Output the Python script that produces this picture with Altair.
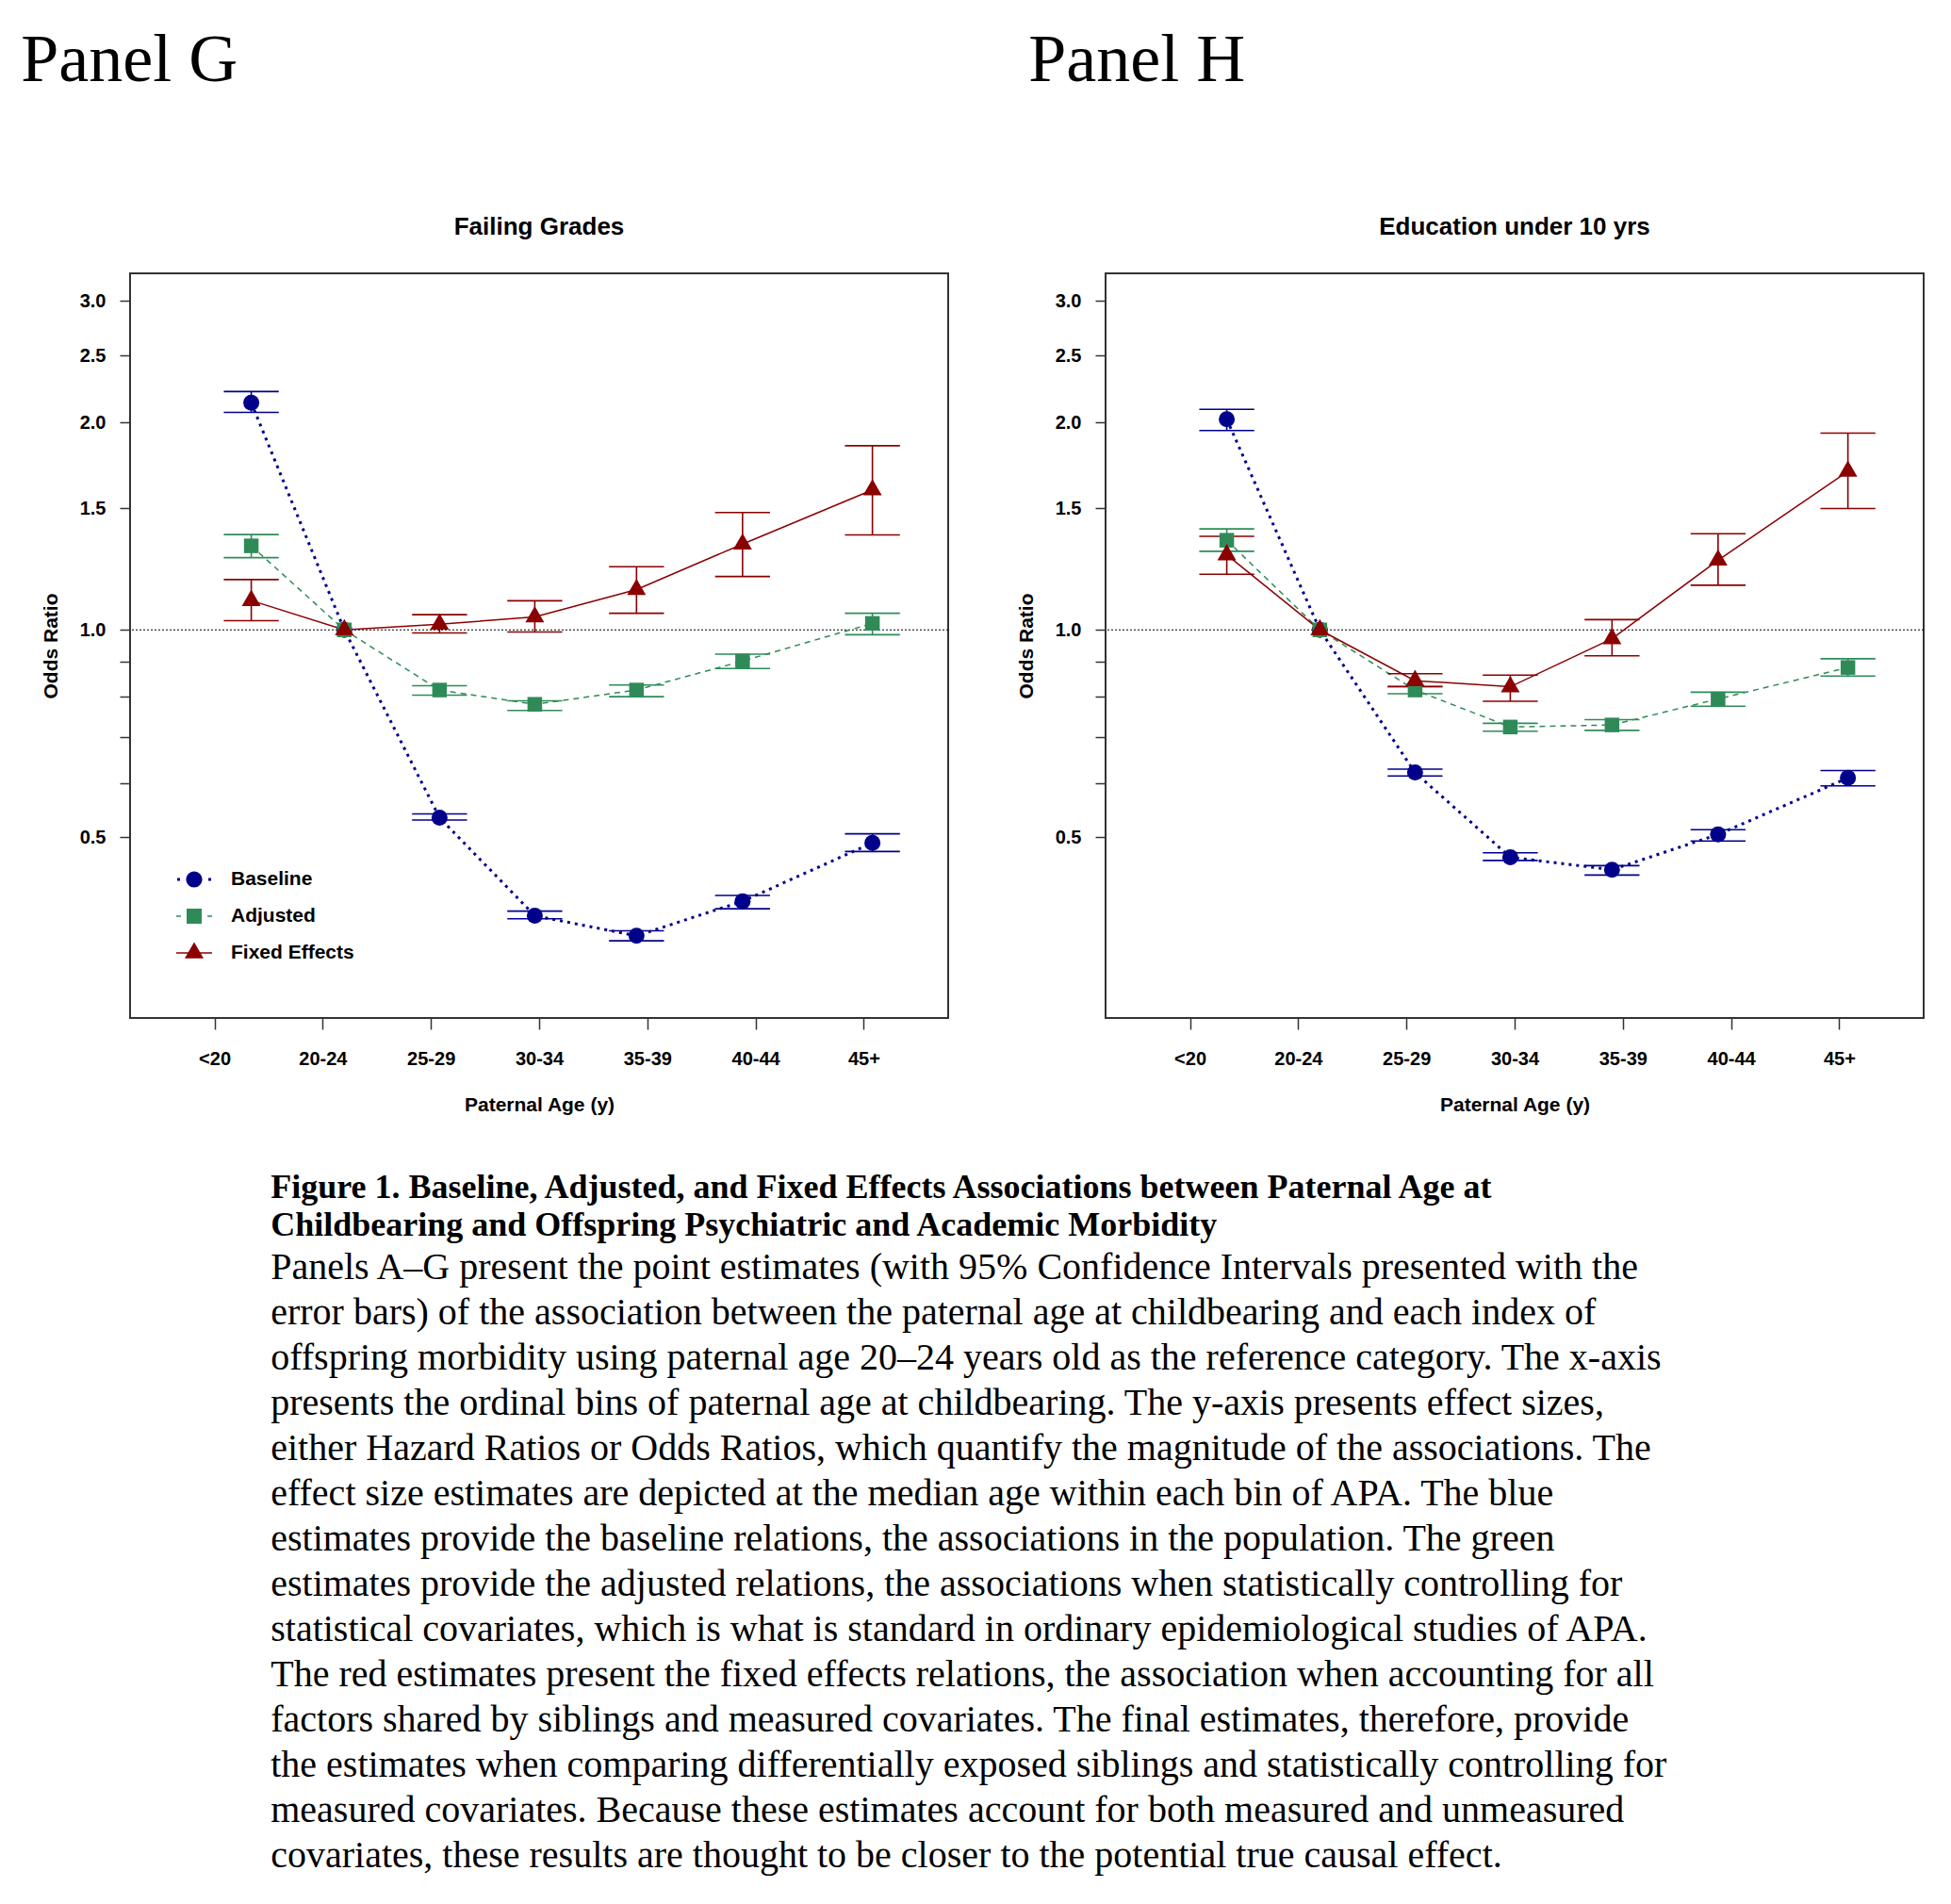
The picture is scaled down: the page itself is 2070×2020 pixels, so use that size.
import math
import altair as alt
import pandas as pd

# ---------------- data ----------------
age_labels = ["<20", "20-24", "25-29", "30-34", "35-39", "40-44", "45+"]
age_ticks = [17.5, 22.5, 27.5, 32.5, 37.5, 42.5, 47.5]
median_age = [19.2, 23.5, 27.9, 32.3, 37.0, 41.9, 47.9]
series_names = ["Baseline", "Adjusted", "Fixed Effects"]

# Panel G - Failing Grades
g_base = [2.135, 1.0, 0.534, 0.385, 0.360, 0.404, 0.491]
g_base_lo = [2.068, None, 0.530, 0.381, 0.354, 0.394, 0.477]
g_base_hi = [2.217, None, 0.541, 0.391, 0.366, 0.412, 0.506]
g_adj = [1.324, 1.0, 0.818, 0.780, 0.818, 0.901, 1.022]
g_adj_lo = [1.273, None, 0.804, 0.764, 0.800, 0.879, 0.984]
g_adj_hi = [1.375, None, 0.830, 0.789, 0.832, 0.922, 1.057]
g_fe = [1.103, 1.0, 1.019, 1.044, 1.144, 1.332, 1.596]
g_fe_lo = [1.031, None, 0.990, 0.993, 1.057, 1.195, 1.373]
g_fe_hi = [1.183, None, 1.052, 1.102, 1.235, 1.480, 1.850]

# Panel H - Education under 10 yrs
h_base = [2.021, 1.0, 0.621, 0.468, 0.449, 0.505, 0.610]
h_base_lo = [1.946, None, 0.614, 0.463, 0.441, 0.494, 0.594]
h_base_hi = [2.089, None, 0.628, 0.475, 0.455, 0.513, 0.625]
h_adj = [1.349, 1.0, 0.818, 0.723, 0.728, 0.794, 0.882]
h_adj_lo = [1.300, None, 0.808, 0.713, 0.715, 0.775, 0.857]
h_adj_hi = [1.401, None, 0.827, 0.732, 0.741, 0.812, 0.908]
h_fe = [1.285, 1.0, 0.844, 0.827, 0.971, 1.262, 1.698]
h_fe_lo = [1.204, None, 0.828, 0.788, 0.917, 1.161, 1.500]
h_fe_hi = [1.367, None, 0.864, 0.860, 1.035, 1.379, 1.929]

y_tick_values = [0.5, 0.6, 0.7, 0.8, 0.9, 1.0, 1.5, 2.0, 2.5, 3.0]
y_label_values = [0.5, 1.0, 1.5, 2.0, 2.5, 3.0]

caption_bold = [
    "Figure 1. Baseline, Adjusted, and Fixed Effects Associations between Paternal Age at",
    "Childbearing and Offspring Psychiatric and Academic Morbidity",
]
caption_lines = [
    "Panels A\u2013G present the point estimates (with 95% Confidence Intervals presented with the",
    "error bars) of the association between the paternal age at childbearing and each index of",
    "offspring morbidity using paternal age 20\u201324 years old as the reference category. The x-axis",
    "presents the ordinal bins of paternal age at childbearing. The y-axis presents effect sizes,",
    "either Hazard Ratios or Odds Ratios, which quantify the magnitude of the associations. The",
    "effect size estimates are depicted at the median age within each bin of APA. The blue",
    "estimates provide the baseline relations, the associations in the population. The green",
    "estimates provide the adjusted relations, the associations when statistically controlling for",
    "statistical covariates, which is what is standard in ordinary epidemiological studies of APA.",
    "The red estimates present the fixed effects relations, the association when accounting for all",
    "factors shared by siblings and measured covariates. The final estimates, therefore, provide",
    "the estimates when comparing differentially exposed siblings and statistically controlling for",
    "measured covariates. Because these estimates account for both measured and unmeasured",
    "covariates, these results are thought to be closer to the potential true causal effect.",
]

# ---------------- styles ----------------
SANS = "Liberation Sans"
SERIF = "Liberation Serif"
colors = {"Baseline": "#00008B", "Adjusted": "#2E8B57", "Fixed Effects": "#8B0000"}
line_style = {
    "Baseline": dict(strokeWidth=3, strokeDash=[3, 5], strokeCap="butt"),
    "Adjusted": dict(strokeWidth=1.5, strokeDash=[6, 5]),
    "Fixed Effects": dict(strokeWidth=1.5),
}
TRI = "M0,-1L0.866,0.5L-0.866,0.5Z"
point_style = {
    "Baseline": dict(shape="circle", size=289),
    "Adjusted": dict(shape="square", size=240),
    "Fixed Effects": dict(shape=TRI, size=533),
}
legend_paths = [
    "M-0.95,-0.08h0.16v0.16h-0.16Z M0.79,-0.08h0.16v0.16h-0.16Z "
    "M-0.45,0A0.45,0.45,0,1,1,0.45,0A0.45,0.45,0,1,1,-0.45,0Z",
    "M-1,-0.04h0.26v0.08h-0.26Z M0.74,-0.04h0.26v0.08h-0.26Z "
    "M-0.42,-0.42h0.84v0.84h-0.84Z",
    "M-1,-0.04H1V0.04H-1Z M0,-0.61L0.527,0.305L-0.527,0.305Z",
]
CAP_HALF = 1.27  # half width of the error-bar caps, in years

# axis ranges (R style 4% extension)
xlim = [15, 50]
ylim = [0.3, 3.0]
xr = xlim[1] - xlim[0]
x_domain = [xlim[0] - 0.04 * xr, xlim[1] + 0.04 * xr]
lr = math.log(ylim[1]) - math.log(ylim[0])
y_domain = [math.exp(math.log(ylim[0]) - 0.04 * lr), math.exp(math.log(ylim[1]) + 0.04 * lr)]

label_js = "[" + ",".join("'%s'" % s for s in age_labels) + "]"
tick_js = "[" + ",".join(str(t) for t in age_ticks) + "]"
ylab_js = "[" + ",".join(str(v) for v in y_label_values) + "]"

X_SCALE = alt.Scale(domain=x_domain, nice=False, zero=False)
Y_SCALE = alt.Scale(type="log", domain=y_domain, nice=False)
X_AXIS = alt.Axis(
    values=age_ticks,
    labelExpr=f"{label_js}[indexof({tick_js}, datum.value)]",
    title="Paternal Age (y)",
)
Y_AXIS = alt.Axis(
    values=y_tick_values,
    labelExpr=f"indexof({ylab_js}, datum.value) >= 0 ? format(datum.value, '.1f') : ''",
    title="Odds Ratio",
)


def xenc(field):
    return alt.X(field, type="quantitative", scale=X_SCALE, axis=X_AXIS)


def yenc(field):
    return alt.Y(field, type="quantitative", scale=Y_SCALE, axis=Y_AXIS)


def build_panel(values, subtitle, panel_label, label_dx, W=868, H=790):
    layers = []
    ref = alt.Chart(pd.DataFrame({"OR": [1.0]})).mark_rule(
        color="black", strokeWidth=1.2, strokeDash=[2, 2]
    ).encode(y=yenc("OR"))
    layers.append(ref)
    line_layers, bar_layers, pt_layers = [], [], []
    for name in series_names:
        est, lo, hi = values[name]
        df = pd.DataFrame({"age": median_age, "bin": age_labels, "OR": est, "lo": lo, "hi": hi})
        base = alt.Chart(df)
        c = colors[name]
        line_layers.append(
            base.mark_line(color=c, **line_style[name]).encode(x=xenc("age"), y=yenc("OR"))
        )
        bars = base.transform_filter("isValid(datum.lo)").transform_calculate(
            xl=f"datum.age - {CAP_HALF}", xr=f"datum.age + {CAP_HALF}"
        )
        bar_layers.append(
            bars.mark_rule(color=c, strokeWidth=1.6).encode(x=xenc("age"), y=yenc("lo"), y2="hi")
        )
        bar_layers.append(
            bars.mark_rule(color=c, strokeWidth=1.6).encode(x=xenc("xl"), x2="xr", y=yenc("lo"))
        )
        bar_layers.append(
            bars.mark_rule(color=c, strokeWidth=1.6).encode(x=xenc("xl"), x2="xr", y=yenc("hi"))
        )
        pt_layers.append(
            base.mark_point(filled=True, opacity=1, color=c, **point_style[name]).encode(
                x=xenc("age"), y=yenc("OR")
            )
        )
    leg_df = pd.DataFrame({"series": series_names})
    legend = alt.Legend(
        title=None,
        orient="none",
        legendX=49,
        legendY=624,
        symbolSize=1444,
        symbolStrokeWidth=0,
        symbolOpacity=1,
        labelFont=SANS,
        labelFontSize=21,
        labelFontWeight="bold",
        labelColor="black",
        labelOffset=20,
        rowPadding=10,
        padding=0,
    )
    leg = alt.Chart(leg_df).transform_filter("false").mark_point(filled=True, opacity=1).encode(
        color=alt.Color("series:N", scale=alt.Scale(domain=series_names,
                                                   range=[colors[s] for s in series_names]),
                        legend=legend),
        shape=alt.Shape("series:N", scale=alt.Scale(domain=series_names, range=legend_paths),
                        legend=legend),
    )
    layer = alt.layer(*layers, *line_layers, *bar_layers, *pt_layers, leg).properties(
        width=W,
        height=H,
        title=alt.TitleParams(
            text=subtitle, font=SANS, fontSize=26, fontWeight="bold", color="black",
            anchor="middle", frame="group", offset=36,
        ),
    )
    return alt.vconcat(layer).properties(
        title=alt.TitleParams(
            text=panel_label, font=SERIF, fontSize=72, fontWeight="normal", color="black",
            anchor="start", dx=label_dx, offset=126,
        )
    )


vals_g = {
    "Baseline": (g_base, g_base_lo, g_base_hi),
    "Adjusted": (g_adj, g_adj_lo, g_adj_hi),
    "Fixed Effects": (g_fe, g_fe_lo, g_fe_hi),
}
vals_h = {
    "Baseline": (h_base, h_base_lo, h_base_hi),
    "Adjusted": (h_adj, h_adj_lo, h_adj_hi),
    "Fixed Effects": (h_fe, h_fe_lo, h_fe_hi),
}

pG = build_panel(vals_g, "Failing Grades", "Panel G", -20)
pH = build_panel(vals_h, "Education under 10 yrs", "Panel H", 14)

caption = alt.TitleParams(
    text=caption_bold,
    subtitle=caption_lines,
    orient="bottom",
    anchor="start",
    frame="bounds",
    dx=265,
    offset=60,
    font=SERIF,
    fontSize=36,
    fontWeight="bold",
    lineHeight=40,
    color="black",
    subtitleFont=SERIF,
    subtitleFontSize=40,
    subtitleFontWeight="normal",
    subtitleLineHeight=48,
    subtitleColor="black",
    subtitlePadding=6,
)

chart = (
    alt.hconcat(pG, pH, spacing=69, title=caption)
    .properties(padding={"left": 14, "top": 20, "right": 5, "bottom": 5})
    .configure(background="white")
    .configure_view(stroke="#333333", strokeWidth=2)
    .configure_axis(
        grid=False,
        domain=False,
        labelFont=SANS,
        labelFontWeight="bold",
        labelFontSize=20,
        labelColor="black",
        tickColor="#333333",
        tickWidth=1.5,
        titleFont=SANS,
        titleFontWeight="bold",
        titleFontSize=21,
        titleColor="black",
    )
    .configure_axisX(tickSize=12, labelPadding=21, titlePadding=28)
    .configure_axisY(tickSize=11, labelPadding=15, titlePadding=20)
)

chart.save("out.html", embed_options={"renderer": "svg", "actions": False})
